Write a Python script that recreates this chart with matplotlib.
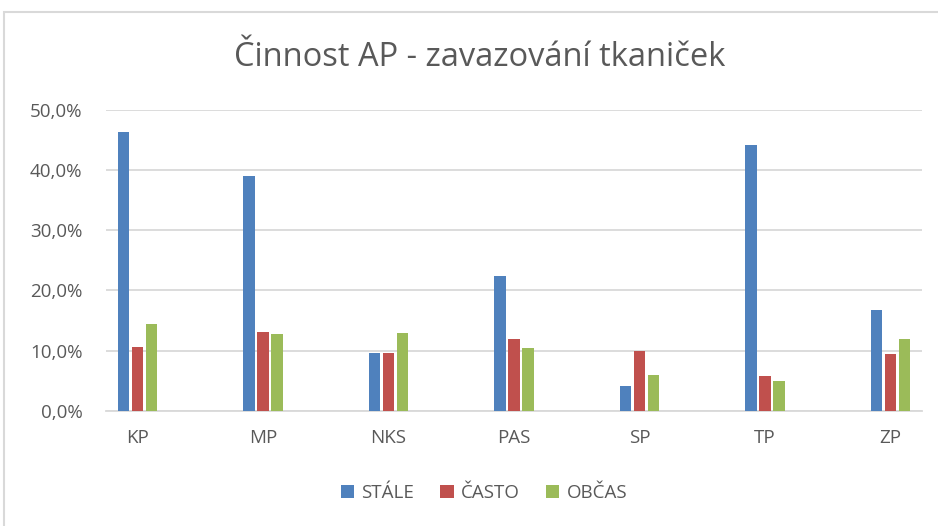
import matplotlib.pyplot as plt
import numpy as np
from matplotlib.patches import Rectangle
from matplotlib.ticker import FuncFormatter, MultipleLocator

categories = ['KP', 'MP', 'NKS', 'PAS', 'SP', 'TP', 'ZP']
stale = [46.4, 39.1, 9.6, 22.4, 4.1, 44.2, 16.7]
casto = [10.6, 13.1, 9.6, 12.0, 10.0, 5.8, 9.45]
obcas = [14.45, 12.7, 12.9, 10.4, 5.9, 4.95, 11.9]

series = [('STÁLE', stale, '#4f81bd'),
          ('ČASTO', casto, '#c0504d'),
          ('OBČAS', obcas, '#9bbb59')]

plt.rcParams['font.family'] = ['Open Sans', 'DejaVu Sans']
txt = '#595959'
grid = '#d9d9d9'

fig = plt.figure(figsize=(9.38, 5.26), dpi=100)
W, H = 938, 526

# chart area border (only top/left visible in the crop)
fig.patches.append(Rectangle((4 / W, -0.01), 1.0, 1 - 11.5 / H + 0.01,
                             transform=fig.transFigure, fill=False,
                             edgecolor=grid, linewidth=1.5))

ax = fig.add_axes([106 / W, 1 - 410.7 / H, 816 / W, 300.7 / H])

x = np.arange(len(categories))
width = 0.09
step = 0.1116
for i, (name, vals, col) in enumerate(series):
    ax.bar(x + (i - 1) * step, vals, width, color=col, label=name, zorder=3)

ax.set_xlim(-0.25, 6.25)
ax.set_ylim(0, 50)
ax.yaxis.set_major_locator(MultipleLocator(10))
ax.yaxis.set_major_formatter(FuncFormatter(lambda v, p: f'{v:.1f}%'.replace('.', ',')))
ax.set_xticks(x)
ax.set_xticklabels(categories)
ax.grid(axis='y', color=grid, linewidth=1.3, zorder=0)
for s in ['top', 'right', 'left']:
    ax.spines[s].set_visible(False)
ax.spines['bottom'].set_color(grid)
ax.spines['bottom'].set_linewidth(1.3)
ax.tick_params(axis='both', length=0, labelsize=13.5, colors=txt)
ax.tick_params(axis='y', pad=17)
ax.tick_params(axis='x', pad=13)

fig.text(480 / W, 1 - 58 / H, 'Činnost AP - zavazování tkaniček',
         ha='center', va='center', fontsize=23.5, color=txt)

fig.legend(loc='center', bbox_to_anchor=(484 / W, 1 - 493 / H), ncol=3,
           frameon=False, fontsize=13.5, labelcolor=txt,
           handlelength=0.7, handleheight=0.7, handletextpad=0.4,
           columnspacing=1.4)

fig.savefig('out.png', dpi=100)
